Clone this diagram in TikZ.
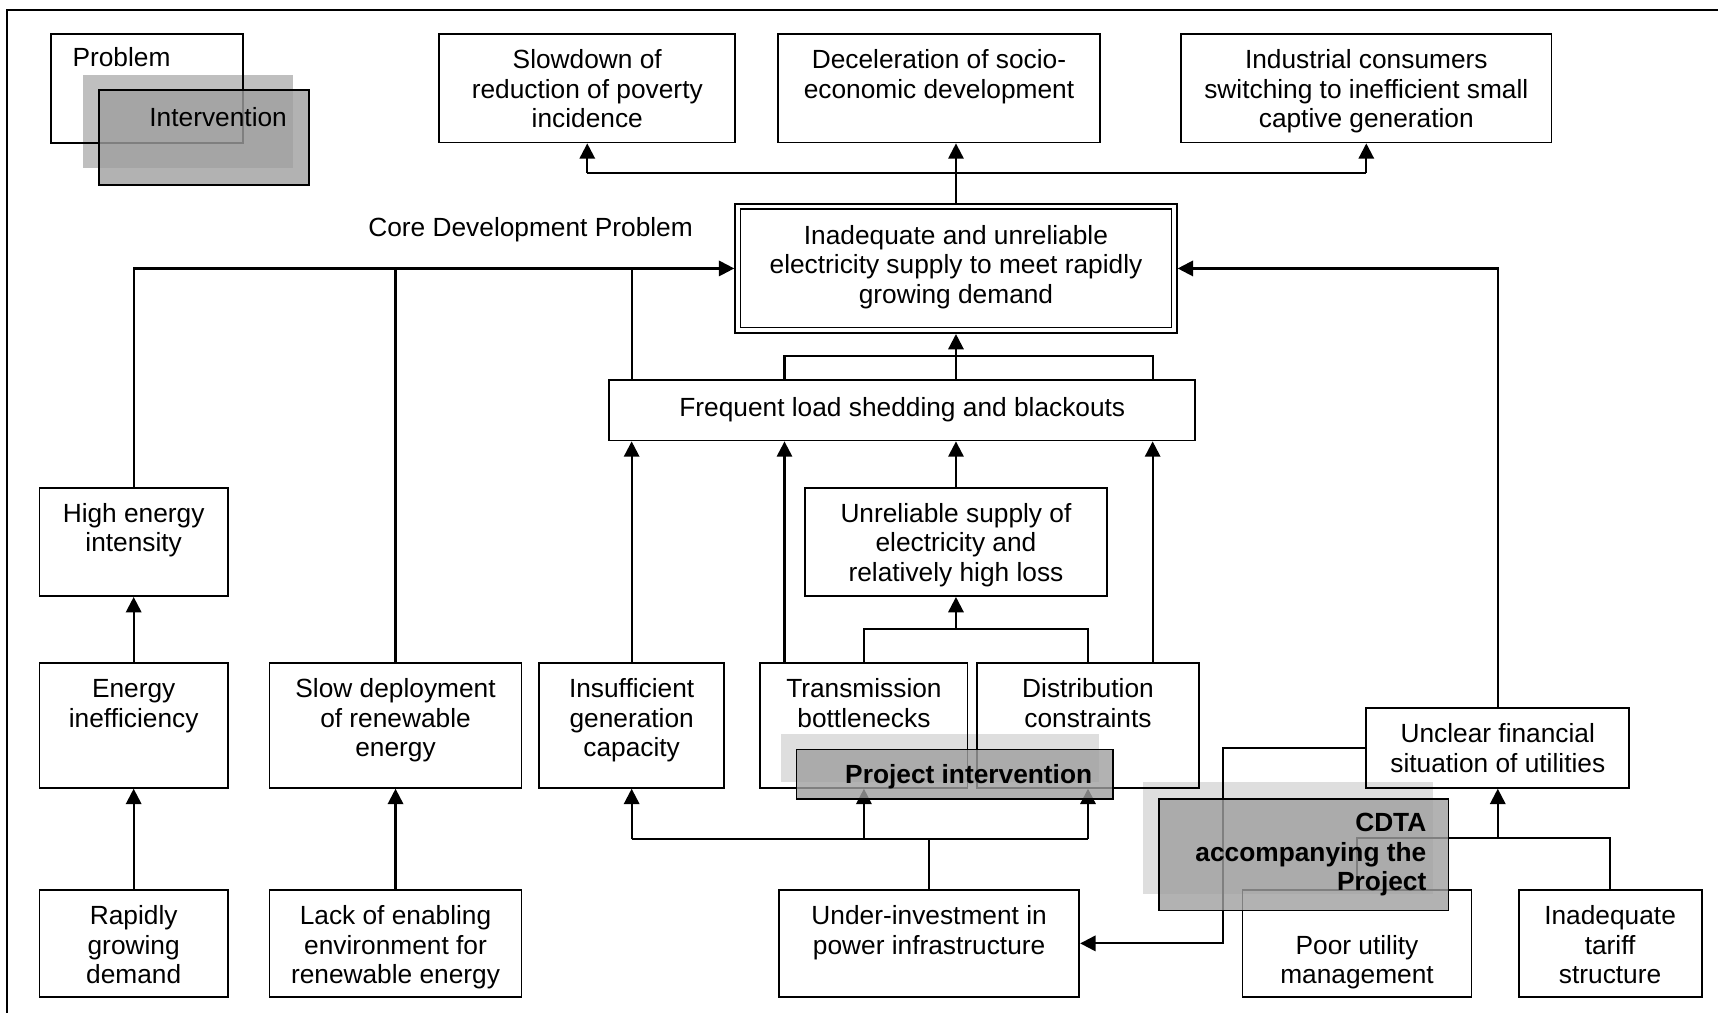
\documentclass[tikz,border=0pt]{standalone}
\usepackage{fontspec}
\setmainfont{Liberation Sans}
\usetikzlibrary{arrows.meta,calc}
\tikzset{
  box/.style={draw, line width=1.7pt, inner sep=0pt},
  txt/.style={inner sep=0pt, align=center, font=\fontsize{24}{26.8}\selectfont},
  btxt/.style={inner sep=0pt, font=\fontsize{24}{26.8}\selectfont\bfseries},
  ln/.style={line width=2pt},
  arr/.style={line width=2pt, -{Triangle[width=14pt,length=14pt]}},
  shadelight/.style={draw=none, inner sep=0pt, fill=black, fill opacity=0.13},
  shadedark/.style={draw=none, inner sep=0pt, fill=black, fill opacity=0.25},
  gbox/.style={draw, line width=1.7pt, inner sep=0pt, fill=black!37.5, fill opacity=0.8},
}
\newcommand\mkbox[7][13]{%
  \node[box, minimum width={(#5)-(#3)}, minimum height={(#6)-(#4)}] (#2) at ({((#3)+(#5))/2},{((#4)+(#6))/2}) {};
  \node[txt, anchor=north] (#2-t) at ({((#3)+(#5))/2},{(#4)+(#1)}) {\strut #7};
}
\begin{document}
\begin{tikzpicture}[x=1pt,y=-1pt]
\useasboundingbox (0,0) rectangle (1568,924);
% outer frame (cut off at right and bottom)
\draw[line width=1.8pt] (1600,8.8) -- (6.7,8.8) -- (6.7,960);

% legend
\node[box, minimum width=175.5, minimum height=99.5] (prob) at (134.25,80.75) {};
\node[txt, anchor=base west] (prob-t) at (66,61) {Problem};

% boxes
\mkbox{slow}{401}{31}{671}{130}{Slowdown of\\reduction of poverty\\incidence}
\mkbox{dec}{710}{31}{1004}{130}{Deceleration of socio-\\economic development}
\mkbox{ind}{1078}{31}{1416}{130}{Industrial consumers\\switching to inefficient small\\captive generation}
\mkbox[18]{core}{671}{186}{1074}{304}{Inadequate and unreliable\\electricity supply to meet rapidly\\growing demand}
\draw[line width=1.5pt] ($(core.north west)+(5.8,5.8)$) rectangle ($(core.south east)+(-5.8,-5.8)$);
\mkbox[14]{freq}{556}{347}{1091}{402}{Frequent load shedding and blackouts}
\mkbox{hei}{36}{445}{208}{544}{High energy\\intensity}
\mkbox{unrel}{735}{445}{1010}{544}{Unreliable supply of\\electricity and\\relatively high loss}
\mkbox{ei}{36}{605}{208}{719}{Energy\\inefficiency}
\mkbox{sdr}{246}{605}{476}{719}{Slow deployment\\of renewable\\energy}
\mkbox{ins}{492}{605}{661}{719}{Insufficient\\generation\\capacity}
\mkbox{trans}{694}{605}{883}{719}{Transmission\\bottlenecks}
\mkbox{dist}{892}{605}{1094}{719}{Distribution\\constraints}
\mkbox{unc}{1247}{646}{1487}{719}{Unclear financial\\situation of utilities}
\mkbox{rgd}{36}{812}{208}{910}{Rapidly\\growing\\demand}
\mkbox{lack}{246}{812}{476}{910}{Lack of enabling\\environment for\\renewable energy}
\mkbox{uinv}{711}{812}{985}{910}{Under-investment in\\power infrastructure}
\mkbox[39.8]{poor}{1134}{812}{1343}{910}{Poor utility\\management}
\mkbox{tar}{1386}{812}{1553}{910}{Inadequate\\tariff\\structure}

\node[txt, anchor=base west] (cdp) at (336,215.5) {Core Development Problem};

% top fan
\coordinate (fan) at (0,158);
\draw[ln] (core.north) -- (core.north |- fan);
\draw[ln] (slow.south |- fan) -- (ind.south |- fan);
\draw[arr] (slow.south |- fan) -- (slow.south);
\draw[arr] (core.north |- fan) -- (core.north |- dec.south);
\draw[arr] (ind.south |- fan) -- (ind.south);

% left bus
\draw[arr] (hei.north) |- (core.west);
\draw[ln] (sdr.north) -- (sdr.north |- core.west);
\draw[ln] (freq.north -| ins.north) -- (ins.north |- core.west);

% right bus
\draw[arr] (unc.north) |- (core.east);

% frequent to core
\coordinate (xa) at (716,0);
\coordinate (xb) at (1052,0);
\coordinate (brk) at (0,325);
\draw[ln] (freq.north -| xa) -- (xa |- brk) -- (xb |- brk) -- (freq.north -| xb);
\draw[arr] (freq.north -| core.south) -- (core.south);

% into frequent
\draw[arr] (ins.north) -- (ins.north |- freq.south);
\draw[arr] (trans.north -| xa) -- (xa |- freq.south);
\draw[arr] (unrel.north) -- (unrel.north |- freq.south);
\draw[arr] (dist.north -| xb) -- (xb |- freq.south);

% into unreliable
\coordinate (brk2) at (0,574);
\draw[ln] (trans.north) -- (trans.north |- brk2) -- (dist.north |- brk2) -- (dist.north);
\draw[arr] (unrel.south |- brk2) -- (unrel.south);

% left column
\draw[arr] (ei.north) -- (hei.south);
\draw[arr] (rgd.north) -- (ei.south);
\draw[arr] (lack.north) -- (sdr.south);

% under-investment
\coordinate (brk3) at (0,766);
\draw[ln] (uinv.north) -- (uinv.north |- brk3);
\draw[ln] (ins.south |- brk3) -- (dist.south |- brk3);
\draw[arr] (ins.south |- brk3) -- (ins.south);
\draw[arr] (trans.south |- brk3) -- (trans.south);
\draw[arr] (dist.south |- brk3) -- (dist.south);

% unclear financial situation
\coordinate (xc) at (1116,0);
\draw[arr] (unc.west) -- (xc |- unc.west) -- (xc |- uinv.east) -- (uinv.east);
\coordinate (brk4) at (0,765);
\draw[ln] (poor.north) -- (poor.north |- brk4) -- (tar.north |- brk4) -- (tar.north);
\draw[arr] (unc.south |- brk4) -- (unc.south);

% overlays: legend
\node[shadedark, minimum width=191, minimum height=85] (ints) at (171.5,110.5) {};
\node[gbox, minimum width=192, minimum height=87] (int) at (186,125.5) {};
\node[txt, anchor=base east] (int-t) at (262,115) {Intervention};

% overlays: project intervention
\node[shadelight, minimum width=290, minimum height=44] (pis) at (858,692) {};
\node[gbox, minimum width=289, minimum height=45] (pi) at (871.5,706.5) {};
\node[btxt, anchor=base east] (pi-t) at (997,715) {Project intervention};

% overlays: CDTA
\node[shadelight, minimum width=264.6, minimum height=102] (cdtas) at (1175.3,765) {};
\node[gbox, minimum width=264, minimum height=102] (cdta) at (1190,780) {};
\node[btxt, align=right, anchor=north east] (cdta-t) at (1302,740.2) {\strut CDTA\\accompanying the\\Project};
\end{tikzpicture}
\end{document}
